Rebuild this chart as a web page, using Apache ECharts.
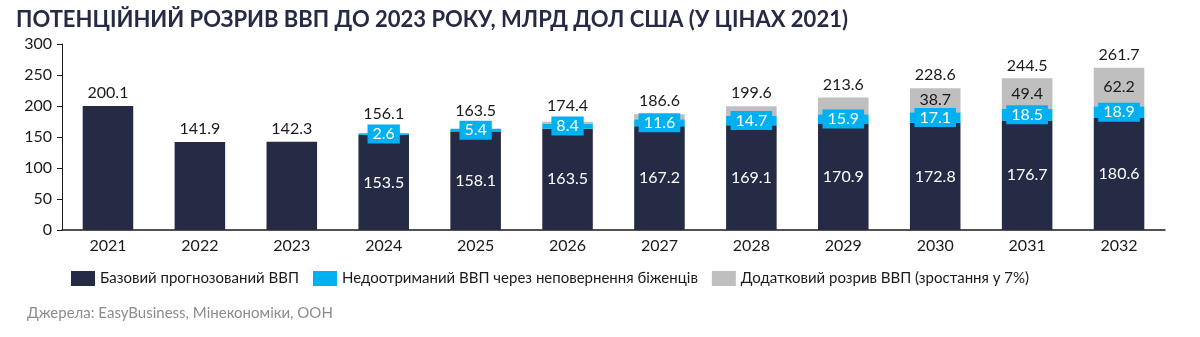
<!DOCTYPE html>
<html><head><meta charset="utf-8">
<script src="https://cdn.jsdelivr.net/npm/echarts@6/dist/echarts.min.js"></script>
<style>html,body{margin:0;padding:0;background:#fff}#c{width:1200px;height:337px}</style>
</head><body><div id="c"></div>
<script>
const categories = ['2021','2022','2023','2024','2025','2026','2027','2028','2029','2030','2031','2032'];
const baseGdp = [200.1,141.9,142.3,153.5,158.1,163.5,167.2,169.1,170.9,172.8,176.7,180.6];
const refugeeGap = [null,null,null,2.6,5.4,8.4,11.6,14.7,15.9,17.1,18.5,18.9];
const extraGap = [null,null,null,0,0,2.5,7.8,15.8,26.8,38.7,49.4,62.2];
const totals = [200.1,141.9,142.3,156.1,163.5,174.4,186.6,199.6,213.6,228.6,244.5,261.7];
const seriesNames = ['Базовий прогнозований ВВП','Недоотриманий ВВП через неповернення біженців','Додатковий розрив ВВП (зростання у 7%)'];
const title = 'ПОТЕНЦІЙНИЙ РОЗРИВ ВВП ДО 2023 РОКУ, МЛРД ДОЛ США (У ЦІНАХ 2021)';
const source = 'Джерела: EasyBusiness, Мінекономіки, ООН';
const yTicks = {min:0,max:300,interval:50};

const FONT = 'Lato';
const GRID = {left:62,right:35,top:44,bottom:107};
const pxPerUnit = (337 - GRID.top - GRID.bottom) / yTicks.max;
// lift total labels above the blue label box when the blue segment sits near the bar top
const totalData = totals.map((v,i)=>{
  let dist = 5;
  if (refugeeGap[i] != null) {
    const centerBelowTop = ((extraGap[i]||0) + refugeeGap[i]/2) * pxPerUnit;
    dist = Math.max(5, Math.round(10 - centerBelowTop + 2));
  }
  return {value:v,label:{distance:dist}};
});

const chart = echarts.init(document.getElementById('c'), null, {renderer:'canvas'});
chart.setOption({
  animation:false,
  textStyle:{fontFamily:FONT},
  title:[
    {text:title,left:11,top:4,textStyle:{fontFamily:FONT,fontSize:22,fontWeight:'bold',color:'#262b45'}},
    {text:source,left:22,top:301,textStyle:{fontFamily:FONT,fontSize:15,fontWeight:'normal',color:'#8c8c8c'}}
  ],
  grid:GRID,
  legend:{
    data:seriesNames,left:66,top:266,itemWidth:24,itemHeight:15,itemGap:14,
    icon:'rect',textStyle:{fontFamily:FONT,fontSize:15,color:'#1a1a1a'}
  },
  xAxis:{
    type:'category',data:categories,
    axisLine:{lineStyle:{color:'#1a1a1a',width:1.5}},
    axisTick:{show:false},
    axisLabel:{fontSize:16,color:'#1a1a1a',margin:8}
  },
  yAxis:{
    type:'value',min:yTicks.min,max:yTicks.max,interval:yTicks.interval,
    axisLine:{show:true,lineStyle:{color:'#1a1a1a',width:1}},
    axisTick:{show:true,inside:false,length:5,lineStyle:{color:'#1a1a1a'}},
    splitLine:{show:false},
    axisLabel:{fontSize:16,color:'#1a1a1a',margin:10}
  },
  series:[
    {name:seriesNames[0],type:'bar',stack:'g',data:baseGdp,barWidth:'55%',barGap:'-100%',
     itemStyle:{color:'#262b45'},
     label:{show:true,position:'inside',color:'#fff',fontSize:16,
       formatter:p=>p.dataIndex<3?'':p.value.toFixed(1)}},
    {name:seriesNames[1],type:'bar',stack:'g',data:refugeeGap,barWidth:'55%',
     itemStyle:{color:'#00b0f0'},
     label:{show:true,position:'inside',color:'#fff',fontSize:16,backgroundColor:'#00b0f0',padding:[2,5,1,5],
       formatter:p=>p.value==null?'':p.value.toFixed(1)}},
    {name:seriesNames[2],type:'bar',stack:'g',data:extraGap,barWidth:'55%',
     itemStyle:{color:'#bfbfbf'},
     label:{show:true,position:'inside',color:'#1a1a1a',fontSize:16,
       formatter:p=>(p.value!=null&&p.value>=30)?p.value.toFixed(1):''}},
    {name:'total',type:'bar',data:totalData,barWidth:'55%',barGap:'-100%',z:0,
     itemStyle:{color:'rgba(0,0,0,0)'},silent:true,
     label:{show:true,position:'top',color:'#1a1a1a',fontSize:16,
       formatter:p=>p.value.toFixed(1)}}
  ]
});
</script></body></html>
